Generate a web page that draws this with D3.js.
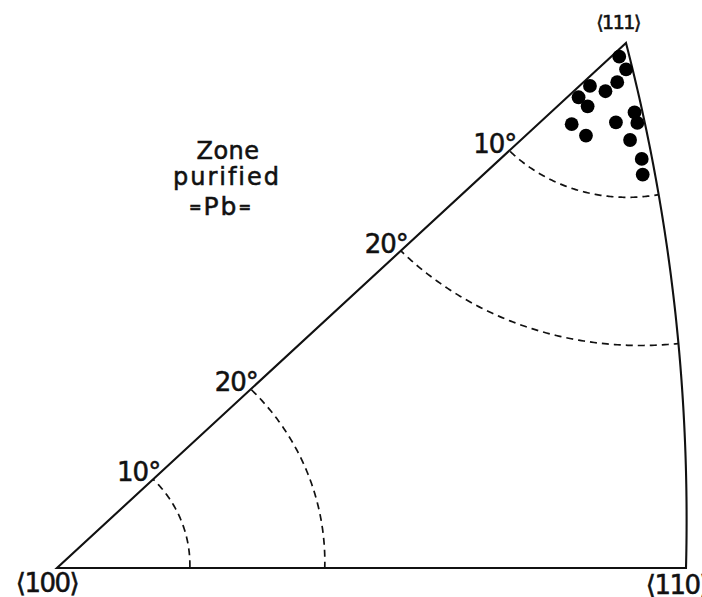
<!DOCTYPE html>
<html>
<head>
<meta charset="utf-8">
<script src="https://cdn.jsdelivr.net/npm/d3@7"></script>
<style>
  html, body { margin: 0; padding: 0; background: #fff; }
  text { font-family: "DejaVu Sans", "Liberation Sans", sans-serif; fill: #111;
         stroke: #111; stroke-width: 0.55px; }
</style>
</head>
<body>
<svg id="chart" width="702" height="597"></svg>
<script>
// Corner poles of the stereographic unit triangle, as [longitude, latitude]
// on a sphere whose projection centre is the <100> direction.
const poleNames = ["⟨100⟩", "⟨110⟩", "⟨111⟩"];
const poleLonLat = [[0, 0], [45, 0], [45, 35.2644]];

// Angular-distance contours (degrees) about <100> and about <111>
const contours100 = [10, 20];
const contours111 = [10, 20];

// Growth-axis orientations of the specimens, stereographic-plane coordinates
const dotU = [0.3618, 0.3665, 0.3430, 0.3609, 0.3533, 0.3357, 0.3418, 0.3728,
              0.3748, 0.3316, 0.3607, 0.3412, 0.3703, 0.3783, 0.3792];
const dotV = [0.3565, 0.3477, 0.3361, 0.3387, 0.3324, 0.3282, 0.3219, 0.3176,
              0.3103, 0.3094, 0.3107, 0.3015, 0.2984, 0.2852, 0.2743];

const noteLines = ["Zone", "purified", "Pb"];

// ---- layout ----
const frame = { left: 57, right: 686, base: 568, top: 43, apexX: 626 };
const svg = d3.select("#chart");

const proj = d3.geoStereographic().scale(1).translate([0, 0]);
const plane = ll => { const p = proj(ll); return [p[0], -p[1]]; };

const [u110] = plane(poleLonLat[1]);
const [u111, v111] = plane(poleLonLat[2]);

const x = d3.scaleLinear().domain([0, u110]).range([frame.left, frame.right]);
const y = d3.scaleLinear().domain([0, v111]).range([frame.base, frame.top]);
// slight lean of the drawn triangle toward the right
const lean = (frame.apexX - x(u111)) / (frame.base - frame.top);
const screen = ([u, v]) => [x(u) + lean * (frame.base - y(v)), y(v)];
const fromLonLat = ll => screen(plane(ll));

const line = d3.line();

// ---- triangle outline ----
const edge = d3.geoInterpolate(poleLonLat[1], poleLonLat[2]);
const edgePts = d3.range(0, 81).map(i => fromLonLat(edge(i / 80)));
const outline = [fromLonLat(poleLonLat[0]), ...edgePts];

svg.append("defs").append("clipPath").attr("id", "tri")
  .append("path").attr("d", line(outline) + "Z");

// ---- dashed contours ----
const circle = d3.geoCircle().precision(0.5);
const contourG = svg.append("g").attr("clip-path", "url(#tri)");
const drawContour = (center, r) => {
  const ring = circle.center(center).radius(r)().coordinates[0];
  contourG.append("path")
    .attr("d", line(ring.map(fromLonLat)))
    .attr("fill", "none")
    .attr("stroke", "#111")
    .attr("stroke-width", 1.7)
    .attr("stroke-dasharray", "7 5");
};
contours100.forEach(r => drawContour(poleLonLat[0], r));
contours111.forEach(r => drawContour(poleLonLat[2], r));

svg.append("path")
  .attr("d", line(outline) + "Z")
  .attr("fill", "none")
  .attr("stroke", "#111")
  .attr("stroke-width", 2.1)
  .attr("stroke-linejoin", "miter");

// ---- contour labels along the <100>-<111> edge ----
const diag = d3.geoInterpolate(poleLonLat[0], poleLonLat[2]);
const diagDeg = d3.geoDistance(poleLonLat[0], poleLonLat[2]) * 180 / Math.PI;
const labelAt = (t, r) => {
  const [px, py] = fromLonLat(diag(t));
  svg.append("text")
    .attr("x", px + 7).attr("y", py + 2)
    .attr("text-anchor", "end")
    .attr("font-size", 26)
    .attr("letter-spacing", -1)
    .text(r + "°");
};
contours100.forEach(r => labelAt(r / diagDeg, r));
contours111.forEach(r => labelAt(1 - r / diagDeg, r));

// ---- data points ----
svg.append("g").selectAll("circle")
  .data(d3.range(dotU.length))
  .join("circle")
  .attr("cx", i => screen([dotU[i], dotV[i]])[0])
  .attr("cy", i => screen([dotU[i], dotV[i]])[1])
  .attr("r", 6.9)
  .attr("fill", "#000");

// ---- pole labels ----
const poleLabel = [
  { dx: -10, dy: 24, size: 26 },
  { dx: -9, dy: 26, size: 26 },
  { dx: -8, dy: -14, size: 19 }
];
poleNames.forEach((name, i) => {
  const [px, py] = fromLonLat(poleLonLat[i]);
  svg.append("text")
    .attr("x", px + poleLabel[i].dx).attr("y", py + poleLabel[i].dy)
    .attr("text-anchor", "middle")
    .attr("font-size", poleLabel[i].size)
    .attr("letter-spacing", -1.5)
    .text(name);
});

// ---- specimen note ----
const note = svg.append("g").attr("text-anchor", "middle");
note.append("text").attr("x", 228).attr("y", 159).attr("font-size", 24)
  .attr("letter-spacing", 0.5).text(noteLines[0]);
note.append("text").attr("x", 227).attr("y", 185).attr("font-size", 24)
  .attr("letter-spacing", 2).text(noteLines[1]);
const pb = note.append("text").attr("x", 221).attr("y", 215).attr("font-size", 25)
  .attr("letter-spacing", 2);
pb.append("tspan").attr("font-size", 15).attr("font-weight", "bold").attr("dy", -3).text("=");
pb.append("tspan").attr("dy", 3).text(noteLines[2]);
pb.append("tspan").attr("font-size", 15).attr("font-weight", "bold").attr("dy", -3).text("=");
</script>
</body>
</html>
